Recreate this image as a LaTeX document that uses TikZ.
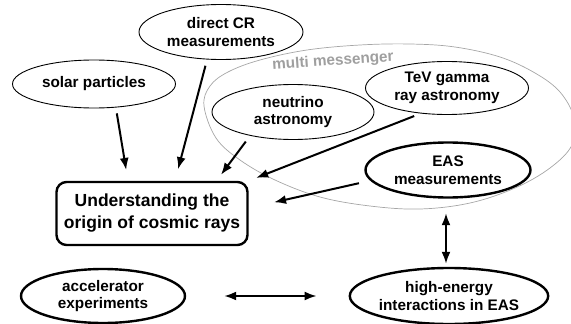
\documentclass[tikz,border=0pt]{standalone}
\usepackage{fontspec}
\setmainfont{Liberation Sans}
\usetikzlibrary{shapes.geometric,arrows.meta}
\tikzset{
  lab/.style={font=\bfseries\fontsize{15.3}{17.5}\selectfont, align=center, inner sep=0pt},
  thin ell/.style={ellipse, draw, line width=0.9pt, lab},
  thick ell/.style={ellipse, draw, line width=2.4pt, lab},
  mainbox/.style={draw, line width=2.4pt, rounded corners=10pt, inner sep=0pt, align=center,
     font=\bfseries\fontsize{17.5}{22}\selectfont},
  arr/.style={line width=2pt, -{Latex[length=12pt,width=9pt]}},
  darr/.style={line width=2pt, {Latex[length=12pt,width=9pt]}-{Latex[length=12pt,width=9pt]}},
  region/.style={gray!70, line width=0.7pt},
}
\begin{document}
\begin{tikzpicture}[x=1pt,y=-1pt]
\useasboundingbox (0,0) rectangle (571,324);
% multi messenger region
\draw[region] plot[smooth cycle, tension=0.6] coordinates {
 (204,106) (210,86) (228,72) (260,60) (307,50) (360,45) (410,44) (455,47)
 (500,57) (535,73) (560,92) (574,118) (572,145) (550,168) (515,188)
 (470,203) (420,209) (370,206) (320,197) (275,180) (240,160) (216,138)};
\node[text=gray!75, font=\bfseries\fontsize{15.3}{17}\selectfont, rotate=4] (mm) at (333,61.5) {multi messenger};

\node[thin ell, minimum width=163pt, minimum height=48pt] (sp) at (94,84) {solar particles};
\node[thin ell, minimum width=164pt, minimum height=55pt] (dcr) at (221,32) {direct CR\\measurements};
\node[thin ell, minimum width=162pt, minimum height=55pt] (nu) at (293,112) {neutrino\\astronomy};
\node[thin ell, minimum width=163pt, minimum height=53pt] (tev) at (447,88) {TeV gamma\\ray astronomy};
\node[thick ell, minimum width=165pt, minimum height=55pt] (eas) at (448,170) {EAS\\measurements};
\node[mainbox, minimum width=191pt, minimum height=63pt] (box) at (152,213.5) {Understanding the\\origin of cosmic rays};
\node[thick ell, minimum width=164pt, minimum height=54pt] (acc) at (103,296) {accelerator\\experiments};
\node[thick ell, minimum width=168pt, minimum height=56pt] (he) at (449,296) {high-energy\\interactions in EAS};

\draw[arr, shorten <=5pt, shorten >=11pt] ([xshift=22pt]sp.south) -- ([xshift=-24pt]box.north);
\draw[arr, shorten <=6pt, shorten >=12pt] ([xshift=-14pt]dcr.south) -- ([xshift=23pt]box.north);
\draw[arr, shorten <=2pt, shorten >=7.5pt] ([xshift=-46pt]nu.south) -- ([xshift=64.5pt]box.north);
\draw[arr, shorten <=3pt, shorten >=8pt] ([xshift=-30pt]tev.south) -- (box.north east);
\draw[arr, shorten <=5.5pt, shorten >=26pt] ([yshift=-12pt]eas.west) -- ([yshift=5.5pt]box.east);
\draw[darr, shorten <=14.5pt, shorten >=3pt] ([xshift=-2pt]eas.south) -- ([xshift=-3pt]he.north);
\draw[darr, shorten <=38pt, shorten >=32pt] (acc.east) -- (he.west);
\end{tikzpicture}
\end{document}
